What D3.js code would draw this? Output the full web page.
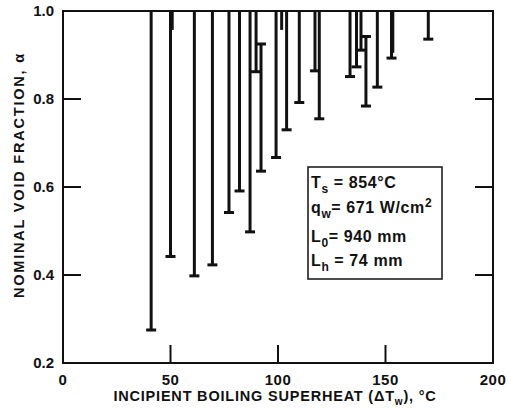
<!DOCTYPE html>
<html>
<head>
<meta charset="utf-8">
<script src="https://cdn.jsdelivr.net/npm/d3@7"></script>
<style>
  html, body { margin: 0; padding: 0; background: #fff; }
  svg text { font-family: "Liberation Sans", Arial, sans-serif; font-weight: bold; fill: #111; }
</style>
</head>
<body>
<svg id="chart" width="511" height="408"></svg>
<script>
// Incipient boiling superheat (°C) for each run
const superheat = [41, 50, 61.1, 69.5, 77.2, 82.1, 87, 89.8, 92.1, 99.1, 104, 109.9,
                   117.2, 119.2, 133.5, 136.5, 138.6, 140.9, 146.2, 152.8, 169.9];
// Upper end of each void-fraction range
const voidTop =    [1, 1, 1, 1, 1, 1, 1, 1, 0.925, 1, 1, 1,
                    1, 1, 1, 1, 1, 0.942, 1, 1, 1];
// Lower end of each void-fraction range
const voidBottom = [0.275, 0.442, 0.398, 0.423, 0.542, 0.591, 0.498, 0.862, 0.636, 0.667, 0.73, 0.792,
                    0.864, 0.755, 0.851, 0.873, 0.911, 0.784, 0.827, 0.893, 0.936];
// Short traces hanging from the top edge (no end mark)
const stubX = [50.8, 101.7, 153.4];
const stubBottom = [0.957, 0.957, 0.905];

const xTicks = [0, 50, 100, 150, 200];
const yTicks = [0.2, 0.4, 0.6, 0.8, 1.0];
const yTickLabels = ["0.2", "0.4", "0.6", "0.8", "1.0"];

const svg = d3.select("#chart");
const x = d3.scaleLinear().domain([0, 200]).range([63, 493]);
const y = d3.scaleLinear().domain([0.2, 1.0]).range([363, 11]);

const ink = "#111";

// Frame
svg.append("rect")
  .attr("x", x(0)).attr("y", y(1))
  .attr("width", x(200) - x(0)).attr("height", y(0.2) - y(1))
  .attr("fill", "none").attr("stroke", ink).attr("stroke-width", 2);

// Inward ticks on the bottom axis
const tickLen = 18;
svg.append("g").selectAll("line").data(xTicks.slice(1, -1)).join("line")
  .attr("x1", d => x(d)).attr("x2", d => x(d))
  .attr("y1", y(0.2)).attr("y2", y(0.2) - tickLen)
  .attr("stroke", ink).attr("stroke-width", 2);

// Inward ticks on the left and right axes
const innerY = yTicks.slice(1, -1);
svg.append("g").selectAll("line").data(innerY).join("line")
  .attr("x1", x(0)).attr("x2", x(0) + tickLen)
  .attr("y1", d => y(d)).attr("y2", d => y(d))
  .attr("stroke", ink).attr("stroke-width", 2);
svg.append("g").selectAll("line").data(innerY).join("line")
  .attr("x1", x(200)).attr("x2", x(200) - tickLen)
  .attr("y1", d => y(d)).attr("y2", d => y(d))
  .attr("stroke", ink).attr("stroke-width", 2);

// Tick labels
svg.append("g").selectAll("text").data(xTicks).join("text")
  .attr("x", d => x(d)).attr("y", 385)
  .attr("text-anchor", "middle").attr("font-size", 15)
  .attr("letter-spacing", 0.5)
  .text(d => d);
svg.append("g").selectAll("text").data(yTicks).join("text")
  .attr("x", 54).attr("y", d => y(d) + 5)
  .attr("text-anchor", "end").attr("font-size", 15)
  .text((d, i) => yTickLabels[i]);

// Axis titles
const xt = svg.append("text")
  .attr("x", 275).attr("y", 401)
  .attr("text-anchor", "middle").attr("font-size", 14.5)
  .attr("letter-spacing", 0.8);
xt.append("tspan").text("INCIPIENT BOILING SUPERHEAT (ΔT");
xt.append("tspan").attr("dy", 4).attr("font-size", 10).text("w");
xt.append("tspan").attr("dy", -4).text("), °C");

svg.append("text")
  .attr("transform", "translate(24,175) rotate(-90)")
  .attr("text-anchor", "middle").attr("font-size", 14.5)
  .attr("letter-spacing", 1.8)
  .text("NOMINAL VOID FRACTION, α");

// Void-fraction ranges
const bars = superheat.map((s, i) => ({ s, top: voidTop[i], bottom: voidBottom[i] }));
const g = svg.append("g");
g.selectAll("line.bar").data(bars).join("line").attr("class", "bar")
  .attr("x1", d => x(d.s)).attr("x2", d => x(d.s))
  .attr("y1", d => y(d.top)).attr("y2", d => y(d.bottom))
  .attr("stroke", ink).attr("stroke-width", 3);
g.selectAll("line.cap").data(bars).join("line").attr("class", "cap")
  .attr("x1", d => x(d.s) - 5).attr("x2", d => x(d.s) + 5)
  .attr("y1", d => y(d.bottom)).attr("y2", d => y(d.bottom))
  .attr("stroke", ink).attr("stroke-width", 3);
g.selectAll("line.topcap").data(bars.filter(d => d.top < 1)).join("line").attr("class", "topcap")
  .attr("x1", d => x(d.s) - 5).attr("x2", d => x(d.s) + 5)
  .attr("y1", d => y(d.top)).attr("y2", d => y(d.top))
  .attr("stroke", ink).attr("stroke-width", 3);
g.selectAll("line.stub").data(stubX).join("line").attr("class", "stub")
  .attr("x1", d => x(d)).attr("x2", d => x(d))
  .attr("y1", y(1)).attr("y2", (d, i) => y(stubBottom[i]))
  .attr("stroke", ink).attr("stroke-width", 3);

// Test-condition box
const box = svg.append("g");
box.append("rect")
  .attr("x", 308).attr("y", 167).attr("width", 134).attr("height", 112)
  .attr("fill", "#fff").attr("stroke", ink).attr("stroke-width", 1.5);
const legend = [
  ["T", "s", " = 854°C", ""],
  ["q", "w", "= 671 W/cm", "2"],
  ["L", "0", "= 940 mm", ""],
  ["L", "h", " = 74 mm", ""]
];
const baselines = [188, 213, 242, 266];
legend.forEach((row, i) => {
  const t = box.append("text").attr("x", 311).attr("y", baselines[i])
    .attr("font-size", 16).attr("letter-spacing", 0.6);
  t.append("tspan").text(row[0]);
  t.append("tspan").attr("dy", 5).attr("font-size", 12).text(row[1]);
  t.append("tspan").attr("dy", -5).text(row[2]);
  if (row[3]) t.append("tspan").attr("dy", -6).attr("font-size", 12).text(row[3]);
});
</script>
</body>
</html>
